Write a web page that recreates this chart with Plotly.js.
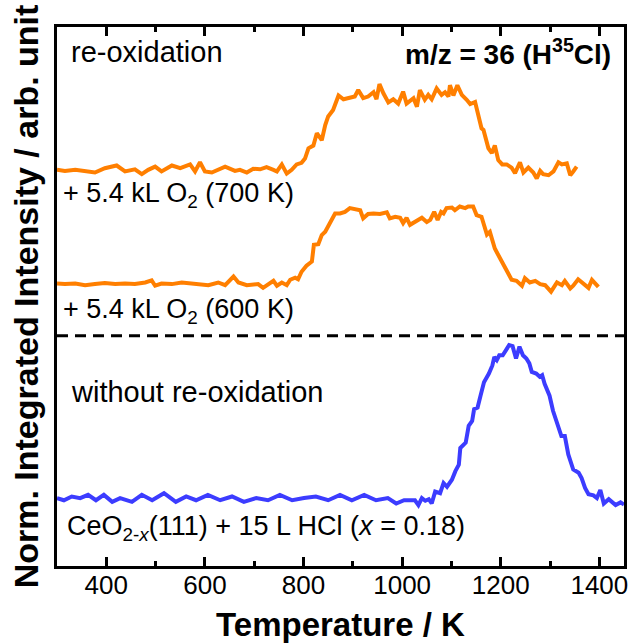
<!DOCTYPE html>
<html>
<head>
<meta charset="utf-8">
<script src="https://cdn.plot.ly/plotly-3.0.1.min.js"></script>
<style>html,body{margin:0;padding:0;background:#fff;}#chart{width:628px;height:643px;}</style>
</head>
<body>
<div id="chart"></div>
<script>
// Temperature (K) and normalized integrated intensity (arb. unit, stacked)
const temp700 = [300,316,337,357,377,397,421,438,458,472,485,499,512,533,550,570,580,590,600,614,641,661,671,685,698,712,725,739,746,756,766,776,786,796,803,810,820,827,837,844,850,860,871,881,894,904,911,921,931,942,948,954,962,972,982,992,1002,1009,1023,1030,1036,1046,1053,1060,1070,1080,1087,1094,1097,1104,1112,1121,1131,1138,1148,1155,1161,1165,1175,1182,1188,1195,1203,1212,1222,1229,1239,1246,1256,1266,1273,1280,1286,1297,1307,1317,1324,1334,1341,1347,1354];
const int700 = [7.35,7.33,7.35,7.32,7.30,7.38,7.43,7.32,7.36,7.27,7.35,7.41,7.32,7.43,7.38,7.45,7.32,7.49,7.32,7.30,7.41,7.33,7.35,7.30,7.37,7.36,7.40,7.35,7.32,7.45,7.28,7.35,7.45,7.48,7.56,7.75,7.80,8.03,7.90,8.18,8.34,8.46,8.73,8.66,8.68,8.71,8.83,8.68,8.71,8.79,8.66,8.94,8.77,8.60,8.66,8.58,8.80,8.58,8.68,8.52,8.83,8.65,8.74,8.66,8.86,8.74,8.79,8.71,8.92,8.73,8.92,8.74,8.65,8.57,8.61,8.34,8.12,8.09,7.75,7.66,7.80,7.53,7.45,7.45,7.39,7.29,7.49,7.30,7.39,7.30,7.19,7.33,7.27,7.25,7.32,7.49,7.45,7.47,7.25,7.32,7.41];

const temp600 = [300,316,337,357,377,397,418,438,458,479,492,499,512,533,553,573,587,607,627,641,658,668,685,698,708,718,729,739,746,756,766,773,783,789,796,806,817,821,830,837,844,850,857,864,874,884,894,904,915,921,931,942,955,969,975,986,996,1002,1009,1016,1026,1040,1050,1057,1065,1072,1079,1084,1090,1101,1107,1117,1128,1134,1144,1151,1161,1172,1178,1188,1195,1205,1215,1222,1232,1243,1249,1259,1270,1280,1290,1302,1314,1324,1330,1341,1347,1357,1368,1378,1385,1391,1398];
const int600 = [5.24,5.23,5.24,5.21,5.23,5.25,5.23,5.24,5.23,5.26,5.30,5.20,5.24,5.23,5.26,5.24,5.23,5.21,5.26,5.21,5.37,5.26,5.21,5.23,5.23,5.16,5.23,5.29,5.20,5.26,5.21,5.31,5.35,5.32,5.46,5.57,5.65,5.96,5.97,6.14,6.20,6.30,6.39,6.54,6.54,6.57,6.64,6.62,6.60,6.45,6.53,6.54,6.53,6.56,6.45,6.48,6.46,6.36,6.46,6.33,6.38,6.46,6.38,6.42,6.57,6.42,6.57,6.54,6.64,6.65,6.60,6.67,6.64,6.67,6.67,6.51,6.48,6.15,6.20,5.89,5.77,5.58,5.43,5.31,5.29,5.20,5.34,5.26,5.29,5.23,5.21,5.09,5.26,5.21,5.29,5.15,5.20,5.32,5.24,5.16,5.31,5.24,5.18];

const tempNoOx = [300,314,330,347,363,379,395,412,428,452,472,493,517,541,562,582,606,631,655,679,704,728,752,777,801,825,850,874,898,923,947,971,988,1004,1016,1026,1033,1040,1047,1054,1060,1067,1077,1084,1091,1101,1108,1115,1118,1129,1135,1142,1146,1153,1159,1166,1176,1183,1187,1192,1197,1204,1211,1217,1224,1231,1238,1245,1252,1258,1263,1272,1279,1284,1289,1299,1306,1313,1323,1330,1337,1347,1358,1364,1371,1378,1388,1395,1402,1409,1419,1433,1443,1450];
const intNoOx = [1.26,1.22,1.29,1.26,1.32,1.22,1.32,1.19,1.26,1.19,1.32,1.22,1.35,1.19,1.29,1.22,1.32,1.22,1.29,1.19,1.26,1.22,1.32,1.22,1.26,1.29,1.22,1.32,1.22,1.32,1.22,1.26,1.16,1.22,1.22,1.22,1.13,1.26,1.21,1.24,1.16,1.38,1.35,1.54,1.47,1.60,1.76,1.88,2.19,2.29,2.60,2.69,2.91,2.94,3.16,3.41,3.57,3.72,3.88,3.82,3.91,3.91,4.01,4.10,4.08,3.85,4.07,3.91,3.85,3.76,3.60,3.57,3.51,3.54,3.38,3.16,2.88,2.69,2.41,2.41,2.07,1.79,1.73,1.63,1.45,1.33,1.31,1.26,1.41,1.16,1.24,1.13,1.18,1.14];

const xTickVals = [400,600,800,1000,1200,1400];
const xTickText = ['400','600','800','1000','1200','1400'];
const separatorLevel = 4.27;

const FONT = 'Liberation Sans, Arial, sans-serif';
const ORANGE = '#ff7f00';
const BLUE = '#3c3cff';

const traces = [
  {x: temp700, y: int700, type: 'scatter', mode: 'lines', line: {color: ORANGE, width: 4}, hoverinfo: 'skip'},
  {x: temp600, y: int600, type: 'scatter', mode: 'lines', line: {color: ORANGE, width: 4}, hoverinfo: 'skip'},
  {x: tempNoOx, y: intNoOx, type: 'scatter', mode: 'lines', line: {color: BLUE, width: 4}, hoverinfo: 'skip'}
];

function ann(text, x, y, anchor, size, bold) {
  return {text: bold ? '<b>' + text + '</b>' : text, xref: 'paper', yref: 'paper', x: x, y: y,
    xanchor: anchor, yanchor: 'middle', showarrow: false, font: {family: FONT, size: size, color: '#000'}};
}

const layout = {
  width: 628, height: 643,
  margin: {l: 57, r: 4, t: 27, b: 77},
  paper_bgcolor: '#fff', plot_bgcolor: '#fff',
  showlegend: false,
  font: {family: FONT, color: '#000'},
  xaxis: {
    range: [300, 1450], tickvals: xTickVals, ticktext: xTickText,
    ticks: 'inside', ticklen: 9, tickwidth: 3, tickcolor: '#000',
    minor: {dtick: 100, tick0: 300, ticks: 'inside', ticklen: 5, tickwidth: 3, tickcolor: '#000'},
    showline: true, linewidth: 3, linecolor: '#000', mirror: 'allticks',
    showgrid: false, zeroline: false,
    ticklabelstandoff: -6,
    ticklabeloverflow: 'allow',
    tickfont: {family: FONT, size: 26, color: '#000'},
    title: {text: '<b>Temperature / K</b>', font: {family: FONT, size: 33, color: '#000'}, standoff: 17}
  },
  yaxis: {
    range: [0, 10], showticklabels: false, ticks: '',
    showline: true, linewidth: 3, linecolor: '#000', mirror: true,
    showgrid: false, zeroline: false,
    title: {text: '<b>Norm. Integrated Intensity / arb. unit</b>', font: {family: FONT, size: 34, color: '#000'}, standoff: 6}
  },
  shapes: [
    {type: 'line', xref: 'paper', x0: 0, x1: 1, yref: 'y', y0: separatorLevel, y1: separatorLevel,
     line: {color: '#000', width: 3, dash: '11px,7px'}}
  ],
  annotations: [
    ann('re-oxidation', 0.022, 0.953, 'left', 29, false),
    ann('m/z = 36 (H<sup>35</sup>Cl)', 0.98, 0.953, 'right', 28, true),
    ann('+ 5.4 kL O<sub>2</sub> (700 K)', 0.007, 0.688, 'left', 27, false),
    ann('+ 5.4 kL O<sub>2</sub> (600 K)', 0.007, 0.473, 'left', 27, false),
    ann('without re-oxidation', 0.022, 0.323, 'left', 29, false),
    ann('CeO<sub>2-<i>x</i></sub>(111) + 15 L HCl (<i>x</i> = 0.18)', 0.014, 0.07, 'left', 27, false)
  ]
};

Plotly.newPlot('chart', traces, layout, {staticPlot: true, displayModeBar: false});
</script>
</body>
</html>
